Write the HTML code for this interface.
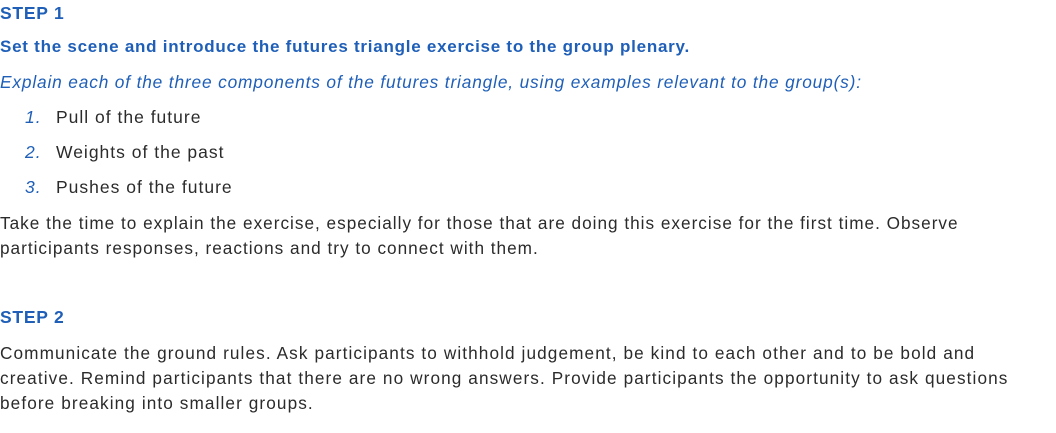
<!DOCTYPE html>
<html><head><meta charset="utf-8"><style>
body{margin:0;width:1056px;height:433px;background:#fff;overflow:hidden;position:relative;font-family:"Liberation Sans",sans-serif;}
.t{position:absolute;left:0;white-space:nowrap;font-size:17.5px;line-height:22px;color:#2b2b2b;letter-spacing:1px;}
.b{color:#1f5fb8;font-weight:bold;letter-spacing:0.75px;}
.i{color:#1f5fb8;font-style:italic;letter-spacing:0.85px;}
.n{position:absolute;left:25px;color:#1f5fb8;font-style:italic;}
.li{position:absolute;left:56px;}
</style></head><body>
<div class="t b" style="top:2px">STEP 1</div>
<div class="t b" style="top:36px;font-size:17px">Set the scene and introduce the futures triangle exercise to the group plenary.</div>
<div class="t i" style="top:71px;font-size:17.3px">Explain each of the three components of the futures triangle, using examples relevant to the group(s):</div>
<div class="t" style="top:106px;width:400px"><span class="n">1.</span><span class="li">Pull of the future</span></div>
<div class="t" style="top:141px;width:400px"><span class="n">2.</span><span class="li">Weights of the past</span></div>
<div class="t" style="top:176px;width:400px"><span class="n">3.</span><span class="li">Pushes of the future</span></div>
<div class="t" style="top:211px;font-size:17.2px;line-height:25px">Take the time to explain the exercise, especially for those that are doing this exercise for the first time. Observe<br>participants responses, reactions and try to connect with them.</div>
<div class="t b" style="top:306px">STEP 2</div>
<div class="t" style="top:341px;font-size:17.2px;line-height:25px;letter-spacing:1.1px">Communicate the ground rules. Ask participants to withhold judgement, be kind to each other and to be bold and<br>creative. Remind participants that there are no wrong answers. Provide participants the opportunity to ask questions<br>before breaking into smaller groups.</div>
</body></html>
